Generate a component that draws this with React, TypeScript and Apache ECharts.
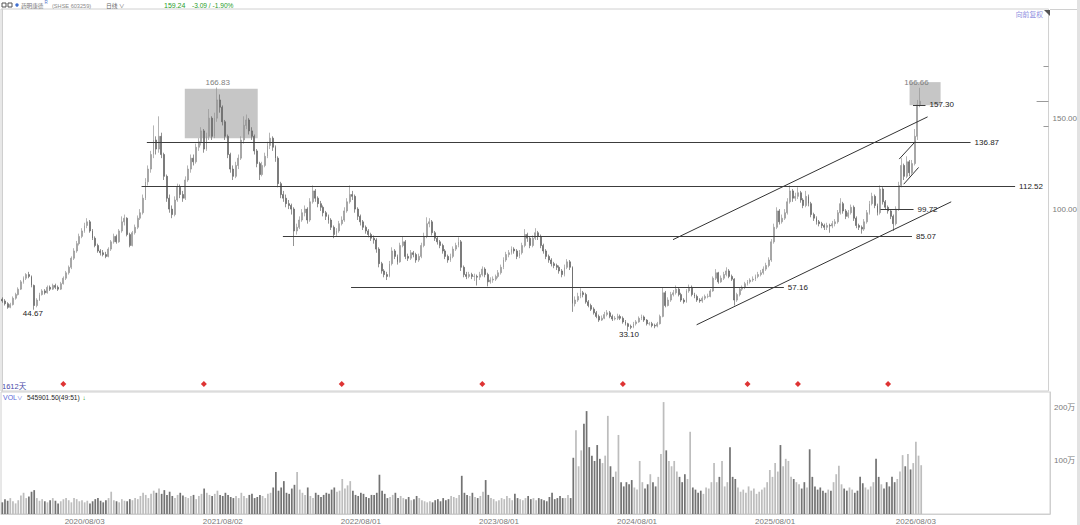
import React, { useEffect, useRef } from "react";
import * as echarts from "echarts";

const FONT = "'Liberation Sans', 'Noto Sans CJK SC', sans-serif";

// weekly categories start (Monday) and total slots on the axis (incl. empty right margin)
const START_DATE = [2019, 11, 30];
const TOTAL_WEEKS = 395;

const firstOpen = 50.5;
const closes = [
  49.5, 48, 46, 47.5, 51, 53, 56, 60, 62, 64,
  63, 58, 47, 50, 53, 55, 54, 57, 56, 58,
  57, 56, 59, 62, 65, 68, 73, 77, 81, 85,
  88, 91, 93, 88, 84, 80, 77, 76, 75, 74,
  78, 82, 85, 82, 88, 93, 95, 86, 80, 87,
  90, 95, 98, 106, 115, 122, 130, 138, 133, 140,
  130, 118, 106, 100, 97, 105, 112, 108, 106, 116,
  122, 128, 126, 134, 137, 143, 133, 140, 150, 140,
  150, 160, 156, 148, 140, 130, 122, 118, 124, 128,
  138, 146, 149, 143, 140, 132, 125, 119, 124, 129,
  135, 139, 134, 128, 114, 108, 106, 103, 102, 100,
  88, 90, 94, 98, 100, 94, 104, 110, 106, 103,
  101, 98, 96, 94, 90, 86, 88, 92, 94, 99,
  104, 108, 107, 100, 96, 93, 90, 88, 86, 84,
  83, 78, 70, 66, 64, 63, 70, 77, 74, 71,
  80, 82, 74, 73, 76, 75, 72, 74, 80, 85,
  92, 93, 87, 84, 82, 80, 77, 74, 72, 74,
  78, 80, 82, 68, 64, 63, 64, 63, 63, 62.6,
  64, 67, 64, 60, 61, 61.5, 63, 65, 68, 72,
  75, 76, 78, 77, 74, 76, 80, 86, 84, 80,
  84, 87, 85, 80, 77, 74, 72, 70, 69, 68,
  66, 64, 68, 71, 68, 48, 50, 52, 54, 53,
  49, 47, 45, 43, 41, 39, 40, 42, 43, 41,
  39.6, 40, 41, 40, 38, 37, 35.5, 35, 37, 38,
  40, 40.7, 39, 37, 37, 36, 35.7, 37, 41, 54,
  47, 50, 53, 54, 56, 53, 50, 49, 55, 57,
  53, 52, 50, 49.5, 51, 52, 52, 55, 62, 65,
  60, 62, 64, 66, 63, 61.5, 50, 53, 56, 57,
  59, 60, 61, 61.5, 63, 64, 65, 67, 69, 72,
  82, 90, 99, 93, 95, 98, 104, 110, 106, 107,
  109, 105, 102, 107, 103, 97, 95, 93, 92, 91,
  90, 91, 90.7, 92, 93, 98, 103, 99, 96, 98,
  101, 95, 91, 90, 89, 93, 98, 103, 107, 102,
  98, 111, 104, 101, 99, 96, 92, 100, 113, 124,
  118, 126, 120, 125, 140, 157.3, 159.24,
];
const highs = [
  51.5, 50.5, 48.8, 48.5, 52, 54, 57, 61, 63, 64.8,
  65.5, 63.5, 58.5, 51, 54, 56, 56, 58, 58, 59,
  59, 58, 60, 63, 66, 69, 74, 78.5, 82.5, 86.5,
  89.5, 92.5, 95, 94, 89, 85, 81, 78, 77.5, 76.5,
  79, 83, 86.5, 86, 89, 96, 97, 95.5, 87, 88,
  91.5, 96.5, 100, 108, 117, 124, 132, 146, 140, 151,
  142, 131, 119, 108, 102, 107, 114, 113.5, 110, 118,
  124, 130, 130, 136, 139, 145, 144, 142, 155, 151,
  153, 166.83, 163, 157, 149, 141, 131, 124, 126, 130,
  140, 151, 152, 150, 145, 141, 133, 126, 126, 131,
  137, 142, 140, 135, 129, 115, 110, 108, 105, 103,
  101, 92, 96, 100, 102, 101, 106, 113, 111, 107,
  104.5, 102, 99, 97, 95, 91, 89.5, 93.5, 96, 101,
  106, 113, 110, 108, 101, 97, 94, 91, 89, 87,
  85.5, 84, 79, 71, 67, 65.5, 71.5, 79, 78, 75,
  81.5, 85, 83, 75.5, 77.5, 77, 76, 75.5, 81.5, 87,
  95.5, 95, 94, 88, 85, 83, 81, 78, 75, 75.5,
  79.5, 81.5, 84.5, 83, 69, 65.5, 65.5, 65, 64.5, 64,
  65.5, 68.5, 68, 65, 62.5, 63, 64, 66.5, 69.5, 73.5,
  76.5, 77.5, 79.5, 79, 78, 77.5, 81.5, 89, 87, 85,
  85.5, 89.5, 88, 86, 81, 78, 75, 73, 71, 70,
  69, 67, 69.5, 72.5, 72, 68.5, 52, 54, 56.5, 55,
  54, 50, 48, 46, 44, 42, 41.5, 43.5, 44.5, 44,
  42, 41.2, 42.5, 42, 41, 39, 37.5, 36.5, 38, 39,
  41, 42, 41.5, 39.5, 38, 38, 37, 38, 42, 57,
  55, 51.5, 54.5, 55.5, 58, 57, 54, 51, 56, 58.5,
  58, 54, 53, 51, 52, 53, 53.5, 56, 63, 67,
  65.5, 63.5, 65.5, 68, 67, 64, 62, 54, 57, 58,
  60, 61, 62, 63, 64, 65.5, 66.5, 68.5, 70.5, 73.5,
  83.5, 92, 101, 100, 97, 100, 106, 113, 111, 109,
  112, 110, 106, 110, 108, 104, 98, 96, 94, 93,
  92, 92.5, 92, 93.5, 94.5, 99.5, 106, 104, 100, 99.5,
  102.5, 102, 96, 92, 91, 94.5, 99.5, 104.5, 109, 108,
  103, 113, 112, 105, 102, 100, 97, 101.5, 115, 128,
  125, 129, 127, 127, 144, 160, 166.66,
];
const lows = [
  48.5, 47, 45.2, 45.5, 47, 50.2, 52.5, 55.5, 59, 61,
  62, 57, 44.67, 46, 49.5, 52.5, 53, 53.5, 55, 55.5,
  56, 55, 55.5, 58.5, 61, 64, 67, 72, 76, 80,
  84, 87, 89.5, 87, 83, 79, 76, 74.5, 74, 73,
  73.5, 77, 81, 81, 81.5, 87, 91, 85, 79, 79.5,
  86, 89, 94, 97, 105, 113, 120, 128, 130, 131,
  128, 116, 104, 98, 95, 96, 104, 106, 104, 105,
  115, 120, 124, 125, 132, 135, 131, 132, 138, 138,
  139, 148, 153, 146, 138, 128, 120, 116, 117, 122,
  127, 136, 144, 141, 138, 130, 123, 116, 118, 123,
  128, 133, 132, 126, 112, 106, 104, 101, 100, 97,
  79.7, 86, 89, 93, 96, 92, 93, 103, 104, 101,
  99, 96, 94, 92, 88.5, 84, 85, 87, 91, 93,
  98, 103, 105, 98, 94, 91, 88.5, 86.5, 84.5, 82.5,
  81, 76, 68, 64.5, 62.5, 61, 62.5, 69, 72.5, 69.5,
  70.5, 79, 72.5, 71.5, 72, 73.5, 70.5, 71, 73, 79,
  84, 90, 85.5, 82.5, 80.5, 78.5, 75.5, 72.5, 70.5, 71,
  73, 77, 79, 66, 62.5, 61.5, 62, 61.5, 60.5, 58,
  61, 63, 62.5, 57.5, 59, 59.5, 60.5, 62, 64, 67,
  71, 73.5, 75, 75.5, 72.5, 73, 75, 79, 82, 78.5,
  79, 83, 83, 78.5, 75.5, 72.5, 70.5, 68.5, 67.5, 66.5,
  64.5, 62.5, 63, 67, 66.5, 43.5, 46.5, 49, 51, 51.5,
  48, 46, 44, 42, 40, 38, 38.5, 39.5, 41, 40,
  38.5, 38.8, 39, 39, 37, 36, 33.1, 34, 34.5, 36,
  37.5, 39, 38, 36, 36, 35, 34.5, 35, 36.5, 40.5,
  46, 46.5, 49, 52, 53, 52, 49, 48, 48.5, 54,
  52, 51, 49, 48.5, 48.5, 50, 51, 51.5, 54.5, 61,
  59, 59.5, 61, 63, 62, 60.5, 47, 49, 52, 55,
  56, 58, 59, 60, 60.5, 62, 63, 64, 66, 68,
  71, 81, 89, 91.5, 92, 94, 97, 103, 104, 104.5,
  105.5, 103.5, 100.5, 101, 101.5, 95.5, 93.5, 91.5, 90.5, 89.5,
  88.5, 88.5, 87, 89.5, 90.5, 92, 97, 97.5, 94.5, 95,
  97, 93.5, 89.5, 88.5, 86.5, 88, 92, 97, 102, 100.5,
  96.5, 97, 102.5, 99.5, 97.5, 94.5, 88, 91, 99, 112,
  116, 117, 118, 119, 124, 138, 156,
];
// volume in 万 (10k shares)
const volumes = [
  22, 28, 25, 30, 24, 20, 26, 35, 40, 30,
  33, 42, 45, 30, 25, 28, 24, 22, 26, 30,
  25, 20, 24, 28, 30, 26, 22, 30, 28, 24,
  26, 22, 25, 20, 24, 28, 30, 25, 22, 26,
  30, 42, 26, 24, 22, 28, 25, 24, 28, 26,
  30, 28, 34, 40, 36, 30, 38, 44, 40, 48,
  38, 45, 36, 42, 34, 30, 36, 40, 35, 32,
  30, 34, 36, 28, 34, 38, 48, 40, 36, 34,
  38, 44, 36, 34, 40, 36, 32, 30, 34, 30,
  40, 34, 30, 36, 38, 30, 32, 36, 34, 30,
  38, 40, 50, 79, 44, 50, 62, 40, 38, 48,
  55, 79, 46, 40, 36, 50, 34, 30, 40, 36,
  32, 36, 40, 38, 46, 50, 42, 44, 66, 48,
  54, 62, 44, 36, 34, 40, 38, 32, 30, 36,
  36, 40, 74, 44, 38, 30, 32, 36, 40, 30,
  34, 30, 28, 32, 26, 28, 34, 30, 26, 24,
  22, 24, 22, 26, 28, 24, 30, 26, 28, 34,
  32, 30, 36, 72, 40, 36, 34, 40, 32, 30,
  34, 42, 64, 36, 30, 28, 24, 26, 30, 28,
  34, 30, 26, 38, 30, 28, 26, 30, 34, 28,
  30, 26, 30, 28, 26, 24, 32, 40, 28, 30,
  34, 30, 30, 36, 30, 106, 158, 90, 120, 170,
  194, 126, 110, 100, 130, 104, 96, 110, 185, 90,
  70, 80, 149, 60, 52, 60, 56, 64, 50, 46,
  100, 60, 48, 56, 75, 60, 52, 70, 113, 211,
  120, 100, 90, 100, 80, 70, 60, 75, 66, 155,
  50, 46, 40, 44, 38, 50, 48, 60, 96, 60,
  70, 100, 52, 60, 126, 70, 66, 50, 42, 46,
  40, 52, 44, 48, 38, 42, 46, 50, 60, 83,
  70, 96, 80, 130, 90, 104, 100, 70, 66, 60,
  56, 48, 60, 50, 122, 70, 52, 46, 50, 44,
  40, 46, 44, 60, 75, 91, 56, 48, 44, 50,
  46, 40, 44, 70, 58, 50, 46, 52, 60, 104,
  70, 56, 48, 60, 52, 70, 60, 66, 80, 111,
  90, 113, 84, 96, 136, 110, 92,
];

const tickLabels = ["2020/08/03", "2021/08/02", "2022/08/01", "2023/08/01", "2024/08/01", "2025/08/01", "2026/08/03"];
const priceAxisLabels = [100, 150];
const volumeAxisLabels = [100, 200];

// event markers (red diamonds) by week index
const eventWeeks = [23, 76, 128, 181, 234, 281, 300, 334];
const eventLevel = 3.8;

// drawn horizontal levels (x in week units)
const levelLines = [
  { text: "136.87", value: 136.87, fromWeek: 54.5, toWeek: 365.1 },
  { text: "112.52", value: 112.52, fromWeek: 52.5, toWeek: 381.9 },
  { text: "99.72", value: 99.72, fromWeek: 331.1, toWeek: 343.6 },
  { text: "85.07", value: 85.07, fromWeek: 105.8, toWeek: 343.0 },
  { text: "57.16", value: 57.16, fromWeek: 131.5, toWeek: 294.7 },
  { text: "157.30", value: 157.3, fromWeek: 343.4, toWeek: 348.1 },
];
// drawn trend lines [[week, price], [week, price]]
const trendLines = [
  [[252.9, 83.2], [348.9, 150.7]],
  [[261.8, 36.4], [357.8, 104.0]],
  [[338.2, 127.5], [344.2, 137.0]],
  [[339.9, 113.7], [345.5, 122.9]],
];
// highlighted boxes [[week, price], [week, price]]
const boxes = [
  [[68.8, 166.2], [96.3, 139.0]],
  [[342.1, 169.8], [353.8, 157.1]],
];
const peakLabels = [
  { week: 81.2, value: 166.83, text: "166.83" },
  { week: 344.7, value: 166.66, text: "166.66" },
];
const lowLabels = [
  { week: 11.5, value: 44.67, text: "44.67" },
  { week: 236.3, value: 33.1, text: "33.10" },
];
// small price marks at right axis
const axisMarks = [
  { value: 178.6, fromWeek: 392.6 },
  { value: 159.24, fromWeek: 390.0 },
  { value: 145.6, fromWeek: 392.6 },
];

function pad(n: number) {
  return n < 10 ? "0" + n : "" + n;
}

function buildOption() {
  const startMs = Date.UTC(START_DATE[0], START_DATE[1], START_DATE[2]);
  const weekMs = 7 * 86400000;
  const categories: string[] = [];
  for (let i = 0; i < TOTAL_WEEKS; i++) {
    const d = new Date(startMs + i * weekMs);
    categories.push(d.getUTCFullYear() + "/" + pad(d.getUTCMonth() + 1) + "/" + pad(d.getUTCDate()));
  }
  const tickMap = new Map<number, string>();
  tickLabels.forEach((t) => {
    const [y, m, d] = t.split("/").map(Number);
    const idx = Math.floor((Date.UTC(y, m - 1, d) - startMs) / weekMs);
    tickMap.set(idx, t);
  });

  const opens = closes.map((c, i) => (i === 0 ? firstOpen : closes[i - 1]));
  const candles = closes.map((c, i) => [opens[i], c, lows[i], highs[i]]);
  const volData = volumes.map((v, i) => ({
    value: v,
    itemStyle: { color: closes[i] >= opens[i] ? "#bdbdbd" : "#737373" },
  }));

  const lineColor = "#333";
  const markLineData: any[] = [];
  levelLines.forEach((l) => {
    markLineData.push([
      {
        coord: [l.fromWeek, l.value],
        lineStyle: { color: "#3c3c3c", width: 1 },
        label: { show: true, position: "end", formatter: l.text, fontSize: 8, color: "#222", distance: 4, fontFamily: FONT },
      },
      { coord: [l.toWeek, l.value] },
    ]);
  });
  trendLines.forEach((t) => {
    markLineData.push([
      { coord: t[0], lineStyle: { color: lineColor, width: 1 }, label: { show: false } },
      { coord: t[1] },
    ]);
  });
  axisMarks.forEach((a) => {
    markLineData.push([
      { coord: [a.fromWeek, a.value], lineStyle: { color: "#9a9a9a", width: 1 }, label: { show: false } },
      { coord: [TOTAL_WEEKS - 0.5, a.value] },
    ]);
  });

  const markPointData: any[] = [];
  peakLabels.forEach((p) => {
    markPointData.push({
      coord: [p.week, p.value],
      symbol: "circle",
      symbolSize: 0,
      label: { show: true, position: "top", distance: 1, formatter: p.text, color: "#808080", fontSize: 8, fontFamily: FONT },
    });
  });
  lowLabels.forEach((p) => {
    markPointData.push({
      coord: [p.week, p.value],
      symbol: "circle",
      symbolSize: 0,
      label: { show: true, position: "bottom", distance: 0, formatter: p.text, color: "#222", fontSize: 8, fontFamily: FONT },
    });
  });

  const gtext = (text: string, x: number, y: number, fill: string, fontSize: number, extra: any = {}) => ({
    type: "text",
    x,
    y,
    silent: true,
    style: {
      text,
      fill,
      fontSize,
      fontFamily: FONT,
      verticalAlign: "middle",
      textVerticalAlign: "middle",
      ...extra,
    },
  });

  return {
    animation: false,
    backgroundColor: "#ffffff",
    textStyle: { fontFamily: FONT },
    grid: [
      { left: 1, right: 30, top: 9, height: 382, show: true, borderColor: "#d0d0d0", borderWidth: 1, backgroundColor: "transparent" },
      { left: 1, right: 30, top: 392, height: 122, show: true, borderColor: "#d0d0d0", borderWidth: 1, backgroundColor: "transparent" },
    ],
    xAxis: [
      {
        type: "category",
        gridIndex: 0,
        data: categories,
        boundaryGap: true,
        axisLine: { show: false },
        axisTick: { show: false },
        axisLabel: { show: false },
        splitLine: { show: false },
      },
      { type: "value", gridIndex: 0, min: -0.5, max: TOTAL_WEEKS - 0.5, show: false },
      {
        type: "category",
        gridIndex: 1,
        data: categories,
        boundaryGap: true,
        axisLine: { show: true, lineStyle: { color: "#cfcfcf" } },
        axisTick: { show: false },
        splitLine: { show: false },
        axisLabel: {
          interval: (i: number) => tickMap.has(i),
          formatter: (_v: string, i: number) => tickMap.get(i) || "",
          color: "#7a7a7a",
          fontSize: 8,
          margin: 3,
          fontFamily: FONT,
        },
      },
    ],
    yAxis: [
      {
        type: "value",
        gridIndex: 0,
        position: "right",
        min: 0,
        max: 210,
        interval: 50,
        axisLine: { show: true, lineStyle: { color: "#cfcfcf" } },
        axisTick: { show: false },
        splitLine: { show: false },
        axisLabel: {
          formatter: (v: number) => (priceAxisLabels.includes(v) ? v.toFixed(2) : ""),
          color: "#7a7a7a",
          fontSize: 8,
          margin: 4,
          fontFamily: FONT,
        },
      },
      {
        type: "value",
        gridIndex: 1,
        position: "right",
        min: 0,
        max: 230,
        interval: 100,
        axisLine: { show: true, lineStyle: { color: "#cfcfcf" } },
        axisTick: { show: false },
        splitLine: { show: false },
        axisLabel: {
          formatter: (v: number) => (volumeAxisLabels.includes(v) ? v + "万" : ""),
          color: "#7a7a7a",
          fontSize: 8,
          margin: 4,
          fontFamily: FONT,
        },
      },
    ],
    series: [
      {
        type: "line",
        name: "drawings",
        xAxisIndex: 1,
        yAxisIndex: 0,
        data: [],
        z: 1,
        silent: true,
        markArea: {
          silent: true,
          itemStyle: { color: "#c6c6c6" },
          data: boxes.map((b) => [{ coord: b[0] }, { coord: b[1] }]),
        },
        markLine: {
          silent: true,
          symbol: ["none", "none"],
          animation: false,
          label: { show: false },
          lineStyle: { type: "solid", color: lineColor, width: 1 },
          data: markLineData,
        },
        markPoint: {
          silent: true,
          animation: false,
          data: markPointData,
        },
      },
      {
        type: "candlestick",
        name: "price",
        xAxisIndex: 0,
        yAxisIndex: 0,
        data: candles,
        z: 3,
        barWidth: 1.4,
        silent: true,
        itemStyle: {
          color: "#a4a4a4",
          color0: "#6a6a6a",
          borderColor: "#959595",
          borderColor0: "#646464",
          borderWidth: 0.7,
        },
      },
      {
        type: "scatter",
        name: "events",
        xAxisIndex: 0,
        yAxisIndex: 0,
        data: eventWeeks.map((w) => [w, eventLevel]),
        symbol: "diamond",
        symbolSize: 6,
        itemStyle: { color: "#d60000" },
        silent: true,
        z: 4,
      },
      {
        type: "bar",
        name: "VOL",
        xAxisIndex: 2,
        yAxisIndex: 1,
        data: volData,
        barCategoryGap: "35%",
        silent: true,
      },
    ],
    graphic: [
      { type: "rect", shape: { x: 2, y: 3, width: 4, height: 4 }, style: { fill: "none", stroke: "#555", lineWidth: 1 }, silent: true },
      { type: "rect", shape: { x: 8, y: 3, width: 4, height: 4 }, style: { fill: "none", stroke: "#555", lineWidth: 1 }, silent: true },
      { type: "circle", shape: { cx: 17, cy: 5, r: 1.7 }, style: { fill: "#3f6fd0" }, silent: true },
      gtext("药明康德", 21, 5.5, "#777", 5.6),
      gtext("R", 44.5, 2.5, "#5577cc", 4.5),
      gtext("(SHSE 603259)", 52, 5.5, "#8a8a8a", 5.6),
      gtext("日线", 106, 5.5, "#666", 5.8),
      gtext("∨", 119, 5.5, "#666", 5.5),
      gtext("159.24", 164, 5.5, "#2a9d2a", 7),
      gtext("-3.09 / -1.90%", 192, 5.5, "#2a9d2a", 6.6),
      gtext("向前复权", 1043, 14.5, "#8e8ee0", 6.8, { align: "right", textAlign: "right" }),
      { type: "polygon", shape: { points: [[1044, 10], [1050, 10], [1050, 16]] }, style: { fill: "#555" }, silent: true },
      gtext("1612天", 2, 386, "#4848a8", 7.5),
      gtext("VOL", 3, 397, "#5a6ad8", 7),
      gtext("∨", 17, 397.5, "#5a6ad8", 5.5),
      gtext("545901.50(49:51)", 27, 397, "#222", 6.7),
      gtext("↓", 82.5, 397, "#2a9d2a", 6.5),
      { type: "rect", shape: { x: 1077, y: 0, width: 3, height: 525 }, style: { fill: "#e2e2e2" }, silent: true },
      { type: "line", shape: { x1: 1050, y1: 9.5, x2: 1077, y2: 9.5 }, style: { stroke: "#d0d0d0", lineWidth: 1 }, silent: true },
    ],
  };
}

export default function App() {
  const ref = useRef<HTMLDivElement>(null);
  useEffect(() => {
    if (!ref.current) return;
    const chart = echarts.init(ref.current, undefined, { renderer: "svg" });
    chart.setOption(buildOption() as any);
    return () => chart.dispose();
  }, []);
  return (
    <div
      ref={ref}
      style={{ position: "fixed", left: 0, top: 0, width: 1080, height: 525, background: "#fff" }}
    />
  );
}
